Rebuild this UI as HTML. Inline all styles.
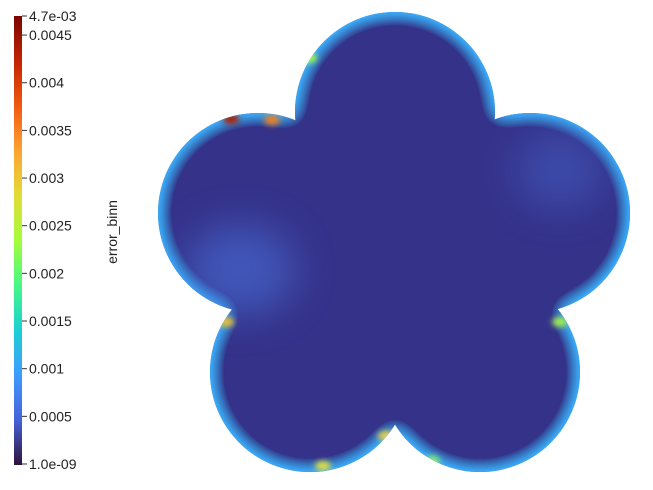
<!DOCTYPE html>
<html><head><meta charset="utf-8"><style>
html,body{margin:0;padding:0;background:#fff;width:653px;height:490px;overflow:hidden}
svg{display:block;font-family:"Liberation Sans",sans-serif}
</style></head><body>
<svg id="chart" width="653" height="490">
<defs>
<linearGradient id="turbo" x1="0" y1="1" x2="0" y2="0">
<stop offset="0" stop-color="#30123b"/><stop offset="0.1" stop-color="#4662d7"/>
<stop offset="0.2" stop-color="#3e9bfe"/><stop offset="0.3" stop-color="#1bcfd4"/>
<stop offset="0.4" stop-color="#46f884"/><stop offset="0.5" stop-color="#a4fc3c"/>
<stop offset="0.6" stop-color="#e2dc38"/><stop offset="0.7" stop-color="#fea331"/>
<stop offset="0.8" stop-color="#ef5911"/><stop offset="0.9" stop-color="#c22402"/>
<stop offset="1" stop-color="#7a0403"/></linearGradient>
<filter id="glow" filterUnits="userSpaceOnUse" x="100" y="0" width="600" height="490">
<feGaussianBlur in="SourceAlpha" stdDeviation="11" result="b"/>
<feComponentTransfer in="b" result="inv"><feFuncA type="linear" slope="-2.6" intercept="2.35"/></feComponentTransfer>
<feFlood flood-color="#3aa6f4" result="c"/>
<feComposite in="c" in2="inv" operator="in" result="g"/>
<feComposite in="g" in2="SourceAlpha" operator="in" result="g2"/>
<feMerge><feMergeNode in="SourceGraphic"/><feMergeNode in="g2"/></feMerge>
</filter>
<filter id="soft" x="-50%" y="-50%" width="200%" height="200%"><feGaussianBlur stdDeviation="20"/></filter>
<filter id="hot" x="-100%" y="-100%" width="300%" height="300%"><feGaussianBlur stdDeviation="3"/></filter>
<clipPath id="flower"><polygon points="395,112 530,213 480,375 310,375 258,213"/></clipPath>
</defs>
<g id="field">
<g id="shape" filter="url(#glow)"><polygon points="395,112 530,213 480,375 310,375 258,213" fill="#36338a"/></g>
<g id="blobs" clip-path="url(#flower)"></g>
</g>
<rect x="14" y="16" width="8" height="449" fill="url(#turbo)"/>
<g id="ticks"></g>
<text x="117" y="232" font-size="14" fill="#222" text-anchor="middle" transform="rotate(-90 117 232)">error_binn</text>
</svg>
<script>
const tickValues=[1e-9,0.0005,0.001,0.0015,0.002,0.0025,0.003,0.0035,0.004,0.0045,0.0047];
const tickLabels=["1.0e-09","0.0005","0.001","0.0015","0.002","0.0025","0.003","0.0035","0.004","0.0045","4.7e-03"];
const lobeCx=[395,530,480,310,258];
const lobeCy=[112,213,372,372,213];
const hotX=[231,272,309,226,386,323,560,432];
const hotY=[119,120,58,322,436,466,322,461];
const hotColor=["#b01d05","#f08020","#a4fc3c","#e8c030","#f0d040","#e0e040","#a0f050","#90f060"];
const ns="http://www.w3.org/2000/svg";
const vmin=1e-9,vmax=0.0047,y0=464,y1=16;
const ys=v=>y0-(v-vmin)/(vmax-vmin)*(y0-y1);
const tg=document.getElementById('ticks');
tickValues.forEach((v,i)=>{
 const y=ys(v);
 const l=document.createElementNS(ns,'line');
 
 
 l.setAttribute('x1',22);l.setAttribute('x2',27);l.setAttribute('y1',y);l.setAttribute('y2',y);l.setAttribute('stroke','#333');
 tg.appendChild(l);
 const t=document.createElementNS(ns,'text');
 
 
 t.setAttribute('x',29);t.setAttribute('y',y+5);t.setAttribute('font-size','14');t.setAttribute('fill','#222');
 t.textContent=tickLabels[i];tg.appendChild(t);
});
const cl=document.getElementById('flower'),sh=document.getElementById('shape'),bl=document.getElementById('blobs');
lobeCx.forEach((cx,i)=>{
 const c=document.createElementNS(ns,'circle');
 c.setAttribute('cx',cx);c.setAttribute('cy',lobeCy[i]);c.setAttribute('r',100);cl.appendChild(c);
 const d=document.createElementNS(ns,'circle');
 
 
 d.setAttribute('cx',cx);d.setAttribute('cy',lobeCy[i]);d.setAttribute('r',100);d.setAttribute('fill','#36338a');sh.appendChild(d);
});
const m=document.createElementNS(ns,'ellipse');


m.setAttribute('cx',240);m.setAttribute('cy',270);m.setAttribute('rx',55);m.setAttribute('ry',45);m.setAttribute('fill','#4a6fd8');m.setAttribute('opacity','0.6');m.setAttribute('filter','url(#soft)');
bl.appendChild(m);
const m2=document.createElementNS(ns,'ellipse');


m2.setAttribute('cx',560);m2.setAttribute('cy',170);m2.setAttribute('rx',45);m2.setAttribute('ry',40);m2.setAttribute('fill','#4a6fd8');m2.setAttribute('opacity','0.4');m2.setAttribute('filter','url(#soft)');
bl.appendChild(m2);
hotX.forEach((x,i)=>{
 const h=document.createElementNS(ns,'ellipse');
 
 
 h.setAttribute('cx',x);h.setAttribute('cy',hotY[i]);h.setAttribute('rx',8);h.setAttribute('ry',5);h.setAttribute('fill',hotColor[i]);h.setAttribute('filter','url(#hot)');
 bl.appendChild(h);
});
</script>
</body></html>
